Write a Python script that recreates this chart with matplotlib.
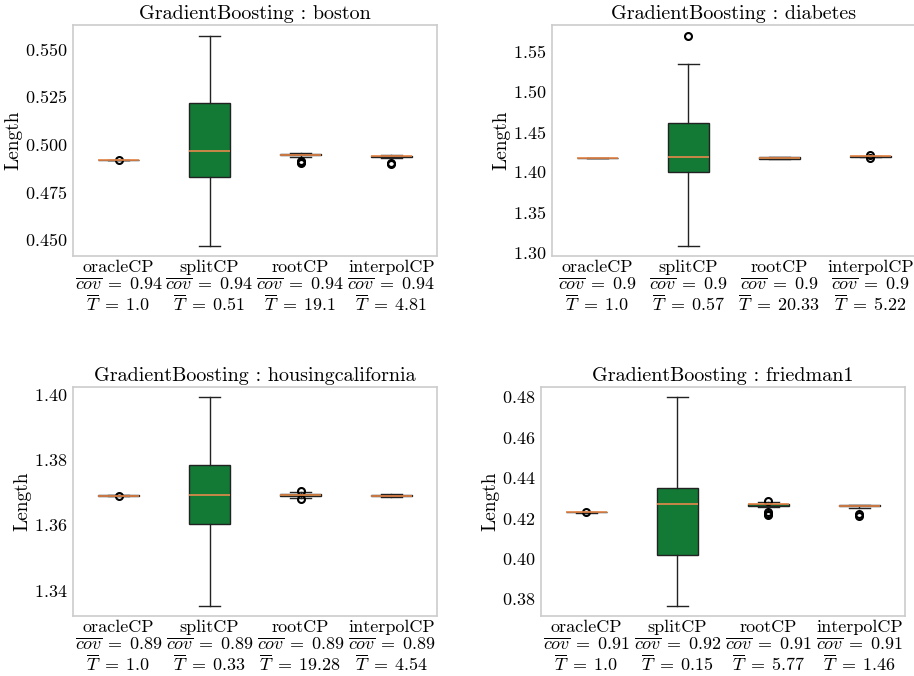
import matplotlib
matplotlib.use("Agg")
import matplotlib.pyplot as plt

plt.rcParams['font.family'] = 'serif'
plt.rcParams['font.serif'] = ['cmr10']
plt.rcParams['mathtext.fontset'] = 'cm'
plt.rcParams['axes.formatter.use_mathtext'] = True
plt.rcParams['axes.unicode_minus'] = False

methods = ['oracleCP', 'splitCP', 'rootCP', 'interpolCP']
datasets = ['boston', 'diabetes', 'housingcalifornia', 'friedman1']

# coverage and time per dataset (same order as methods)
cov = {
    'boston': ['0.94', '0.94', '0.94', '0.94'],
    'diabetes': ['0.9', '0.9', '0.9', '0.9'],
    'housingcalifornia': ['0.89', '0.89', '0.89', '0.89'],
    'friedman1': ['0.91', '0.92', '0.91', '0.91'],
}
tim = {
    'boston': ['1.0', '0.51', '19.1', '4.81'],
    'diabetes': ['1.0', '0.57', '20.33', '5.22'],
    'housingcalifornia': ['1.0', '0.33', '19.28', '4.54'],
    'friedman1': ['1.0', '0.15', '5.77', '1.46'],
}

# box stats: whislo, q1, med, q3, whishi, fliers
boston_stats = [
    (0.4914, 0.4915, 0.4916, 0.4917, 0.4918, [0.4914]),
    (0.4467, 0.4827, 0.4961, 0.5215, 0.5570, []),
    (0.4930, 0.4940, 0.4944, 0.4947, 0.4954, [0.4898, 0.4903, 0.4913]),
    (0.4926, 0.4934, 0.4937, 0.4939, 0.4942, [0.4895, 0.4900]),
]
diabetes_stats = [
    (1.4170, 1.4171, 1.4171, 1.4172, 1.4173, []),
    (1.3084, 1.4000, 1.4184, 1.4613, 1.5342, [1.5696]),
    (1.4162, 1.4165, 1.4172, 1.4180, 1.4183, []),
    (1.4185, 1.4189, 1.4192, 1.4195, 1.4198, [1.4170, 1.4205]),
]
housing_stats = [
    (1.3689, 1.3690, 1.3690, 1.3691, 1.3691, [1.3690]),
    (1.3353, 1.3603, 1.3692, 1.3784, 1.3991, []),
    (1.3684, 1.3688, 1.3692, 1.3695, 1.3700, [1.3705, 1.3680]),
    (1.3686, 1.3688, 1.3690, 1.3692, 1.3694, []),
]
friedman_stats = [
    (0.4227, 0.4228, 0.4228, 0.4229, 0.4229, [0.4228]),
    (0.3767, 0.4015, 0.4268, 0.4350, 0.4798, []),
    (0.4255, 0.4262, 0.4268, 0.4272, 0.4278, [0.4283, 0.4228, 0.4220, 0.4215]),
    (0.4250, 0.4258, 0.4261, 0.4263, 0.4264, [0.4222, 0.4212]),
]
all_stats = [boston_stats, diabetes_stats, housing_stats, friedman_stats]

yticks = [
    [0.450, 0.475, 0.500, 0.525, 0.550],
    [1.30, 1.35, 1.40, 1.45, 1.50, 1.55],
    [1.34, 1.36, 1.38, 1.40],
    [0.38, 0.40, 0.42, 0.44, 0.46, 0.48],
]

fig = plt.figure(figsize=(9.14, 6.76), dpi=100)
rects = [
    [0.0799, 0.6213, 0.3982, 0.3417],
    [0.6039, 0.6213, 0.3982, 0.3417],
    [0.0799, 0.0888, 0.3982, 0.3388],
    [0.5919, 0.0888, 0.3982, 0.3388],
]

for k, name in enumerate(datasets):
    ax = fig.add_axes(rects[k])
    stats = []
    for i, m in enumerate(methods):
        lo, q1, med, q3, hi, fl = all_stats[k][i]
        lab = (m + '\n' + r'$\overline{cov}\;=\;' + cov[name][i] + '$\n'
               + r'$\overline{T}\;=\;' + tim[name][i] + '$')
        stats.append(dict(whislo=lo, q1=q1, med=med, q3=q3, whishi=hi,
                          fliers=fl, label=lab))
    ax.bxp(stats, widths=0.45, patch_artist=True, showfliers=True,
           boxprops=dict(facecolor='#137a35', edgecolor='#222222', linewidth=1),
           whiskerprops=dict(color='#222222', linewidth=1),
           capprops=dict(color='#222222', linewidth=1),
           medianprops=dict(color='#e8894a', linewidth=1.2),
           flierprops=dict(marker='o', markerfacecolor='none',
                           markeredgecolor='black', markersize=5,
                           markeredgewidth=1.5))
    ax.set_yticks(yticks[k])
    ax.tick_params(length=0, labelsize=13, pad=4)
    ax.tick_params(axis='x', pad=3, labelsize=13)
    for t in ax.get_xticklabels():
        t.set_linespacing(1.05)
    for s in ax.spines.values():
        s.set_color('#cccccc')
        s.set_linewidth(1.2)
    ax.set_ylabel('Length', fontsize=14, labelpad=2)
    ax.set_title('GradientBoosting : ' + name, fontsize=14.5, pad=4)

fig.savefig('out.png', dpi=100)
